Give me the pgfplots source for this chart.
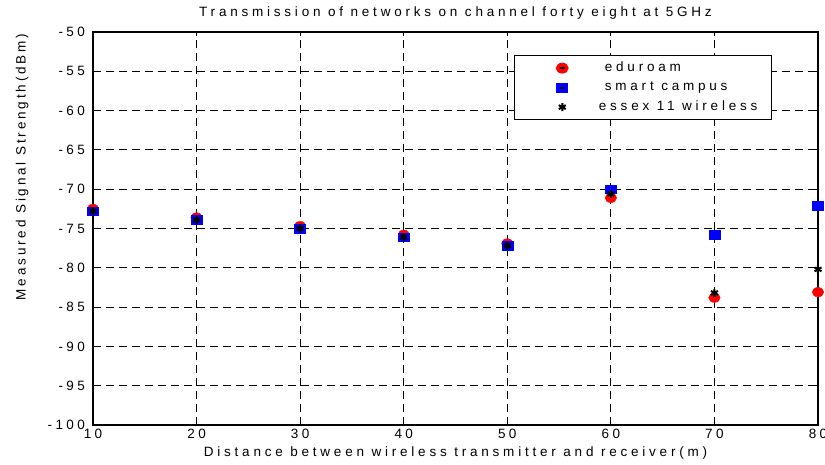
\documentclass[border=0pt]{standalone}
\usepackage{fontspec}
\setmainfont{Liberation Sans}
\newfontfamily\labfont[LetterSpace=28]{Liberation Sans}
\newfontfamily\ylabfont[LetterSpace=21]{Liberation Sans}
\newfontfamily\tickfont[LetterSpace=25]{Liberation Sans}
\usepackage{pgfplots}
\pgfplotsset{compat=1.18}
\begin{document}
\begin{tikzpicture}
\useasboundingbox (-93pt,-40pt) rectangle (732pt,425pt);
\begin{axis}[
  scale only axis,
  width=725pt, height=393pt,
  at={(0pt,0pt)}, anchor=south west,
  xmin=10, xmax=80, ymin=-100, ymax=-50,
  xtick={10,20,...,80}, ytick={-100,-95,...,-50},
  /pgf/number format/assume math mode=true,
  tick label style={font=\fontsize{13.5}{15}\tickfont},
  xticklabel style={anchor=north, inner sep=0pt, yshift=-4pt},
  yticklabel style={anchor=east, inner sep=0pt, xshift=-8pt},
  title={Transmission of networks on channel forty eight at 5GHz},
  title style={font=\fontsize{13.5}{15}\labfont, at={(axis description cs:0.5,1.033)}, anchor=center},
  xlabel={Distance between wireless transmitter and receiver(m)},
  xlabel style={font=\fontsize{13.5}{15}\labfont, at={(axis description cs:0.5,-0.0712)}, anchor=center},
  ylabel={Measured Signal Strength(dBm)},
  ylabel style={font=\fontsize{13.5}{15}\ylabfont, at={(axis description cs:-0.0979,0.6565)}, anchor=center, rotate=0},
  grid=major,
  major grid style={black, dash pattern=on 8pt off 5pt, line width=1pt},
  axis line style={black, line width=1.6pt},
  tick style={black, line width=1pt},
  tick align=inside, major tick length=4pt,
  xtick pos=both, ytick pos=both,
  legend style={at={(axis description cs:0.9366,0.9415)}, anchor=north east,
    draw=black, line width=1.3pt, fill=white,
    font=\fontsize{13.5}{15}\labfont, inner xsep=12pt, inner ysep=4.5pt, row sep=3.5pt,
    nodes={text height=9pt, text depth=3pt}},
  legend cell align=left,
  legend image code/.code={
    \path (0pt,0pt) (69pt,0pt);
    \draw[#1] plot coordinates {(35pt,0pt)};
    \draw[black, line width=1.8pt, solid] (32.5pt,0pt) -- (37.5pt,0pt);
  },
  clip=false,
]
\addplot[only marks, mark=*, mark options={fill=red, draw=red, xscale=1.15, yscale=0.95}, mark size=5pt]
  coordinates {(10,-72.5) (20,-73.6) (30,-74.7) (40,-75.8) (50,-76.9) (60,-71.1) (70,-83.8) (80,-83.1)};
\addlegendentry{\hspace{6pt}eduroam}
\addplot[only marks, mark=square*, mark options={fill=blue, draw=blue, yscale=0.8}, mark size=5.5pt]
  coordinates {(10,-72.8) (20,-73.9) (30,-75.0) (40,-76.1) (50,-77.2) (60,-70.0) (70,-75.8) (80,-72.1)};
\addlegendentry{\hspace{6pt}smart campus}
\addplot[only marks, mark=asterisk, mark options={draw=black, line width=2pt}, mark size=4pt]
  coordinates {(10,-72.8) (20,-73.9) (30,-75.0) (40,-76.1) (50,-77.2) (60,-70.6) (70,-83.2) (80,-80.2)};
\addlegendentry{essex 11 wireless}
\end{axis}
\end{tikzpicture}
\end{document}
